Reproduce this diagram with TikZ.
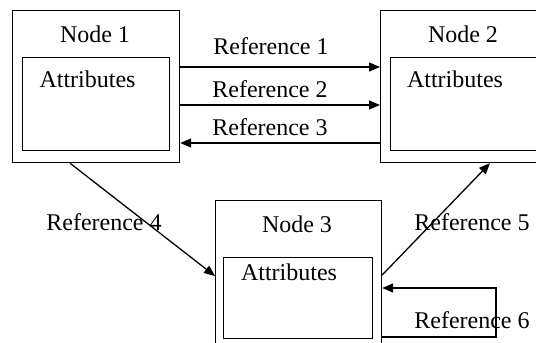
\documentclass[tikz,border=0pt]{standalone}
\usepackage{fontspec}
\setmainfont{Liberation Serif}
\usetikzlibrary{arrows.meta}
\begin{document}
\begin{tikzpicture}[x=1pt,y=-1pt,
  box/.style={draw, line width=1.2pt, rectangle, inner sep=0pt, anchor=north west},
  txt/.style={anchor=base, inner sep=0pt, font=\fontsize{24}{28}\selectfont},
  arr/.style={line width=1.3pt, -{Triangle[length=11pt,width=9pt]}}]
\clip (0,0) rectangle (536,343);
\fill[white] (0,0) rectangle (536,343);
% Node 1
\node[box, minimum width=167pt, minimum height=152pt] (n1) at (12,10) {};
\node[box, minimum width=147pt, minimum height=93pt] (n1a) at (22,57) {};
\node[txt] (t1) at (95,42) {Node 1};
\node[txt] (a1) at (87.5,87) {Attributes};
% Node 2
\node[box, minimum width=170pt, minimum height=152pt] (n2) at (380,10) {};
\node[box, minimum width=155pt, minimum height=93pt] (n2a) at (390,57) {};
\node[txt] (t2) at (463,42) {Node 2};
\node[txt] (a2) at (455,87) {Attributes};
% Node 3
\node[box, minimum width=166pt, minimum height=160pt] (n3) at (215,200) {};
\node[box, minimum width=149pt, minimum height=81pt] (n3a) at (223,257) {};
\node[txt] (t3) at (297,232) {Node 3};
\node[txt] (a3) at (289,280) {Attributes};
% connectors
\draw[arr] (n1.east |- 0,67) -- (n2.west |- 0,67);
\draw[arr] (n1.east |- 0,105) -- (n2.west |- 0,105);
\draw[arr] (n2.west |- 0,143) -- (n1.east |- 0,143);
\node[txt] (r1) at (271,54) {Reference 1};
\node[txt] (r2) at (270,97) {Reference 2};
\node[txt] (r3) at (270,135) {Reference 3};
\draw[arr] (n1.south -| 70,0) -- (n3.west |- 0,276);
\node[txt] (r4) at (104,230) {Reference 4};
\draw[arr] (n3.east |- 0,275) -- (n2.south -| 490,0);
\node[txt] (r5) at (472,230) {Reference 5};
\coordinate (c1) at (496,337);
\coordinate (c2) at (496,288);
\draw[arr] (n3.east |- c1) -- (c1) -- (c2) -- (n3.east |- c2);
\node[txt] (r6) at (472,328) {Reference 6};
\end{tikzpicture}
\end{document}
